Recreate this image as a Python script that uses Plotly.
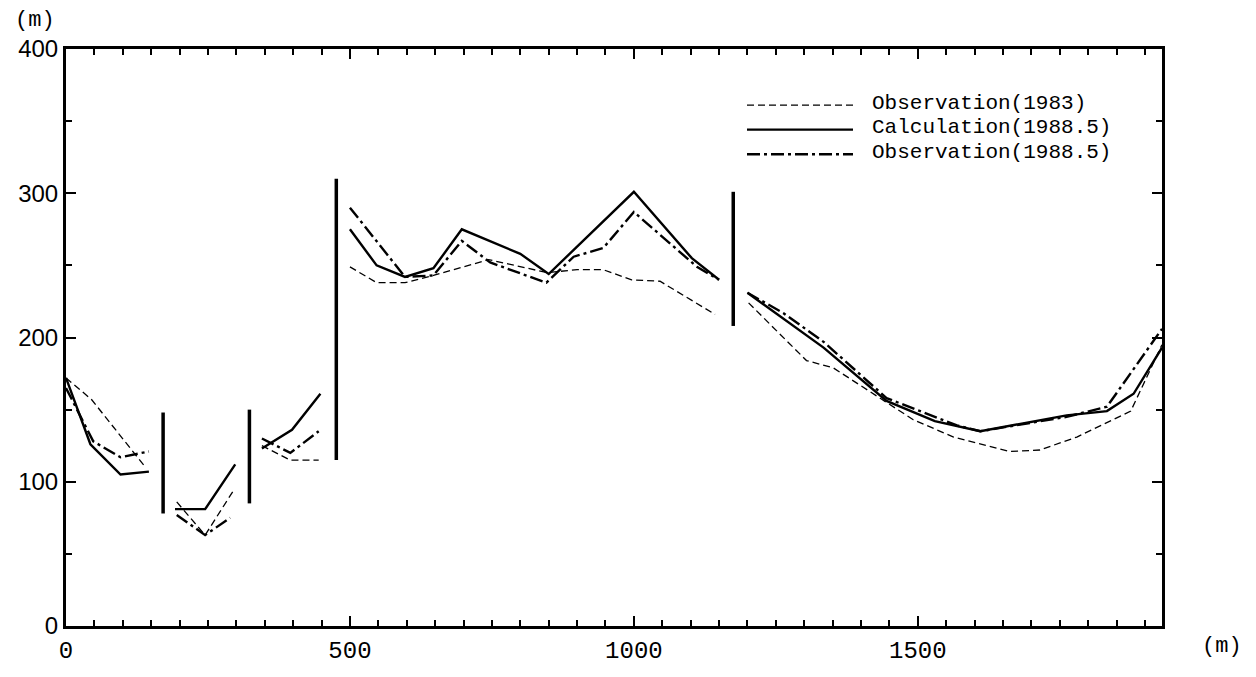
import plotly.graph_objects as go

# Distance along the section (m) and elevation (m) for each series; None breaks the line
obs83_x = [0, 45, 140, None, 195, 245, 295, None, 345, 395, 445, None,
           500, 547, 597, 647, 744, 847, 900, 946, 996, 1046, 1143, None,
           1202, 1304, 1351, 1492, 1563, 1662, 1715, 1780, 1875, 1930]
obs83_y = [172, 157, 110, None, 86, 63, 94, None, 125, 115, 115, None,
           249, 238, 238, 243, 254, 245, 247, 247, 240, 239, 216, None,
           224, 184, 179, 143, 131, 121, 122, 131, 149, 195]

calc88_x = [0, 43, 96, 146, None, 192, 245, 298, None, 345, 398, 448, None,
            500, 547, 597, 647, 697, 800, 850, 1000, 1102, 1150, None,
            1200, 1334, 1445, 1530, 1610, 1762, 1833, 1880, 1930]
calc88_y = [172, 126, 105, 107, None, 81, 81, 112, None, 123, 136, 161, None,
            275, 250, 242, 248, 275, 258, 244, 301, 255, 240, None,
            231, 193, 156, 142, 135, 146, 149, 161, 193]

obs88_x = [0, 48, 96, 146, None, 195, 245, 289, None, 345, 395, 445, None,
           500, 597, 647, 697, 747, 846, 894, 946, 1000, 1111, 1150, None,
           1200, 1263, 1334, 1445, 1569, 1610, 1762, 1833, 1930]
obs88_y = [165, 128, 117, 121, None, 77, 63, 75, None, 130, 120, 135, None,
           290, 242, 243, 267, 252, 238, 256, 262, 287, 249, 240, None,
           231, 217, 197, 158, 139, 135, 145, 152, 206]

# Vertical separators between reaches
sep_x = [171, 323, 476, 1175]
sep_bottom = [78, 85, 115, 208]
sep_top = [148, 150, 310, 301]

x_ticks = [0, 500, 1000, 1500]
y_ticks = [0, 100, 200, 300, 400]

legend_labels = ["Observation(1983)", "Calculation(1988.5)", "Observation(1988.5)"]

DASH_83 = "7px,4px"
DASH_88 = "13px,4px,3px,4px"

fig = go.Figure()

fig.add_trace(go.Scatter(x=obs83_x, y=obs83_y, mode="lines", connectgaps=False,
                         line=dict(color="black", width=1.3, dash=DASH_83)))
fig.add_trace(go.Scatter(x=calc88_x, y=calc88_y, mode="lines", connectgaps=False,
                         line=dict(color="black", width=2.4)))
fig.add_trace(go.Scatter(x=obs88_x, y=obs88_y, mode="lines", connectgaps=False,
                         line=dict(color="black", width=2.4, dash=DASH_88)))

sx, sy = [], []
for x, b, t in zip(sep_x, sep_bottom, sep_top):
    sx += [x, x, None]
    sy += [b, t, None]
fig.add_trace(go.Scatter(x=sx, y=sy, mode="lines", line=dict(color="black", width=3.5)))

# Legend drawn as sample lines plus labels, top right inside the frame
plot_l, plot_r, plot_t, plot_b = 66, 1162, 49, 636
def px_to_paper(px, py):
    return (px - plot_l) / (plot_r - plot_l), (plot_b - py) / (plot_b - plot_t)

rows_y = [104, 129, 154]
styles = [dict(width=1.3, dash=DASH_83), dict(width=2.4, dash="solid"), dict(width=2.4, dash=DASH_88)]
for label, ry, st in zip(legend_labels, rows_y, styles):
    x0, y0 = px_to_paper(747, ry + 2)
    x1, _ = px_to_paper(853, ry + 2)
    fig.add_shape(type="line", xref="paper", yref="paper", x0=x0, x1=x1, y0=y0, y1=y0,
                  line=dict(color="black", **st))
    tx, ty = px_to_paper(870, ry)
    fig.add_annotation(xref="paper", yref="paper", x=tx, y=ty, text=label, showarrow=False,
                       xanchor="left", yanchor="middle",
                       font=dict(family="Liberation Mono", size=21, color="black"))

# Axis unit labels
ux, uy = px_to_paper(35, 20)
fig.add_annotation(xref="paper", yref="paper", x=ux, y=uy, text="(m)", showarrow=False,
                   xanchor="center", yanchor="middle",
                   font=dict(family="Liberation Mono", size=22, color="black"))
ux, uy = px_to_paper(1222, 657)
fig.add_annotation(xref="paper", yref="paper", x=ux, y=uy, text="(m)", showarrow=False,
                   xanchor="center", yanchor="middle",
                   font=dict(family="Liberation Mono", size=22, color="black"))

fig.update_xaxes(range=[0, 1930], tickvals=x_ticks, ticktext=[str(v) for v in x_ticks],
                 showgrid=False, zeroline=False, showline=True, linecolor="black", linewidth=3,
                 mirror="allticks", ticks="inside", ticklen=10, tickwidth=2, tickcolor="black",
                 minor=dict(dtick=50, tick0=0, ticks="inside", ticklen=6, tickwidth=1.5, tickcolor="black"),
                 tickfont=dict(family="Liberation Mono", size=24, color="black"))
fig.update_yaxes(range=[0, 400], tickvals=y_ticks, ticktext=[str(v) for v in y_ticks],
                 showgrid=False, zeroline=False, showline=True, linecolor="black", linewidth=3,
                 mirror="allticks", ticks="inside", ticklen=10, tickwidth=2, tickcolor="black",
                 minor=dict(dtick=50, tick0=0, ticks="inside", ticklen=6, tickwidth=1.5, tickcolor="black"),
                 tickfont=dict(family="Liberation Sans", size=24, color="black"))

fig.update_layout(width=1256, height=677, showlegend=False,
                  paper_bgcolor="white", plot_bgcolor="white",
                  margin=dict(l=plot_l, r=1256 - plot_r, t=plot_t, b=677 - plot_b))

fig.write_html("out.html")
